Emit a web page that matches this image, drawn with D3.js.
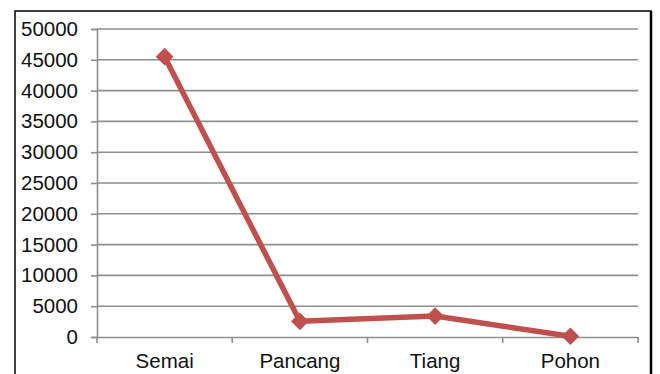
<!DOCTYPE html>
<html>
<head>
<meta charset="utf-8">
<script src="https://cdn.jsdelivr.net/npm/d3@7"></script>
<style>
  html, body { margin: 0; padding: 0; background: #fff; }
  svg { display: block; }
  text { font-family: "Liberation Sans", Arial, sans-serif; fill: #111; }
</style>
</head>
<body>
<svg id="chart" width="660" height="374"></svg>
<script>
// Stages of forest growth and their counts
const categories = ["Semai", "Pancang", "Tiang", "Pohon"];
const values = [45500, 2550, 3400, 120];
const yTicks = [0, 5000, 10000, 15000, 20000, 25000, 30000, 35000, 40000, 45000, 50000];

const svg = d3.select("#chart");
const plot = { left: 97, right: 638, top: 29, bottom: 337 };
const fontSize = 20.5;

// Outer frame of the chart
svg.append("rect")
  .attr("x", 15).attr("y", 11)
  .attr("width", 636).attr("height", 380)
  .attr("fill", "none").attr("stroke", "#000").attr("stroke-width", 1.5);
svg.append("line")
  .attr("x1", 651).attr("x2", 651).attr("y1", 11).attr("y2", 374)
  .attr("stroke", "#000").attr("stroke-width", 2.5);

const x = d3.scaleBand().domain(categories).range([plot.left, plot.right]);
const y = d3.scaleLinear().domain([0, 50000]).range([plot.bottom, plot.top]);

// Horizontal gridlines
svg.append("g")
  .selectAll("line")
  .data(yTicks.filter(d => d > 0))
  .join("line")
  .attr("x1", plot.left).attr("x2", plot.right)
  .attr("y1", d => y(d)).attr("y2", d => y(d))
  .attr("stroke", "#8e8e8e").attr("stroke-width", 1.6);

// Y axis
const yAxis = svg.append("g")
  .attr("transform", `translate(${plot.left},0)`)
  .call(d3.axisLeft(y).tickValues(yTicks).tickSize(6).tickPadding(13).tickFormat(d3.format("d")));
yAxis.select(".domain").attr("stroke", "#8e8e8e").attr("stroke-width", 1.6);
yAxis.selectAll(".tick line").attr("stroke", "#8e8e8e").attr("stroke-width", 1.6);
yAxis.selectAll("text").attr("font-size", fontSize).attr("fill", "#111")
  .attr("font-family", "'Liberation Sans', Arial, sans-serif");

// X axis with ticks at category boundaries
const xAxis = svg.append("g")
  .attr("transform", `translate(0,${plot.bottom})`)
  .call(d3.axisBottom(x).tickSize(0).tickPadding(16));
xAxis.select(".domain").attr("stroke", "#8e8e8e").attr("stroke-width", 1.6);
xAxis.selectAll("text").attr("font-size", fontSize).attr("fill", "#111")
  .attr("font-family", "'Liberation Sans', Arial, sans-serif");
const bounds = categories.map(c => x(c)).concat([x(categories[categories.length - 1]) + x.bandwidth()]);
xAxis.selectAll(".bound")
  .data(bounds)
  .join("line")
  .attr("class", "bound")
  .attr("x1", d => d).attr("x2", d => d)
  .attr("y1", 0).attr("y2", 6)
  .attr("stroke", "#8e8e8e").attr("stroke-width", 1.6);

// Series line
const cx = c => x(c) + x.bandwidth() / 2;
svg.append("path")
  .datum(values)
  .attr("fill", "none")
  .attr("stroke", "#c0504d")
  .attr("stroke-width", 5.5)
  .attr("stroke-linejoin", "round")
  .attr("d", d3.line().x((d, i) => cx(categories[i])).y(d => y(d)));

// Diamond markers
svg.append("g")
  .selectAll("path")
  .data(values)
  .join("path")
  .attr("transform", (d, i) => `translate(${cx(categories[i])},${y(d)})`)
  .attr("d", d3.symbol().type(d3.symbolDiamond2).size(200))
  .attr("fill", "#c0504d");
</script>
</body>
</html>
